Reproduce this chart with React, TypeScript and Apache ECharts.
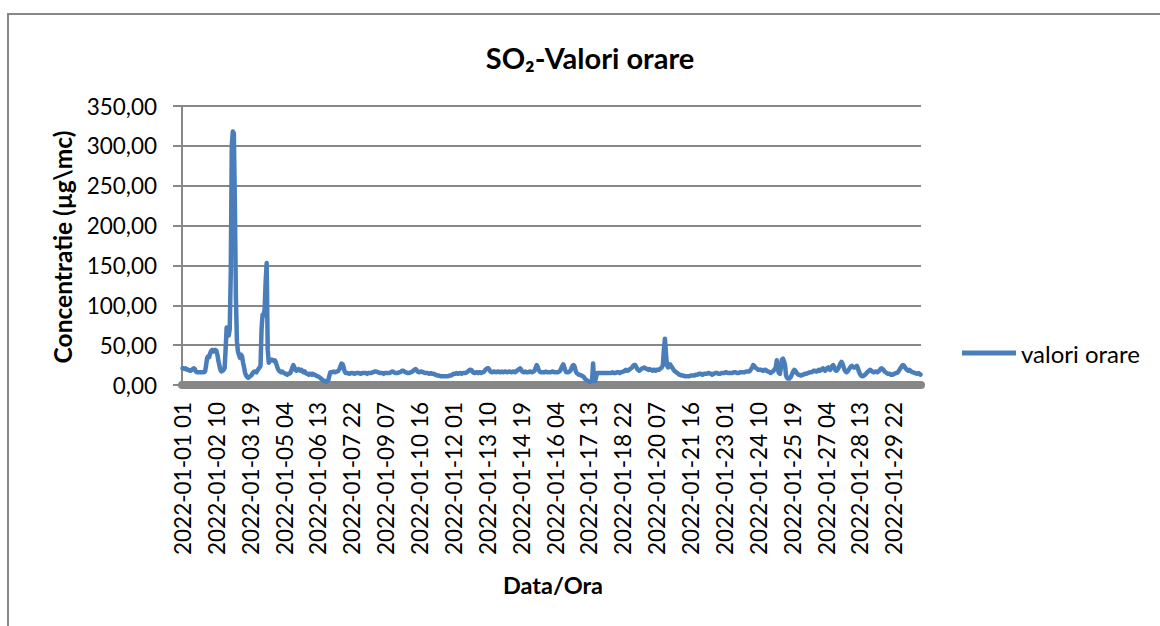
import React, { useEffect, useRef } from "react";
import * as echarts from "echarts";

// Hourly SO2 concentrations (µg/mc), one row per day, starting 2022-01-01 01:00
const day01 = [21,21,20,21,20,19,19,18,18,19,20,21,20,17,16,16,16,16,16,16,16,16,17,25];
const day02 = [34,36,35,40,43,44,42,43,44,43,38,30,24,19,17,18,19,21,45,72,70,62,70,140];
const day03 = [300,318,316,230,110,55,42,38,34,38,36,28,22,15,12,10,9,10,11,12,14,16,17,17];
const day04 = [16,18,20,22,24,70,88,87,95,130,153,45,28,30,31,32,31,30,31,28,24,20,18,17];
const day05 = [16,17,16,15,14,14,13,14,14,15,18,22,25,22,19,18,19,20,19,18,19,17,16,17];
const day06 = [15,14,14,13,14,14,13,14,13,13,12,11,11,10,9,8,7,6,5,5,4,5,6,11];
const day07 = [16,16,16,17,16,16,17,17,18,20,24,27,26,22,17,15,15,15,14,14,15,15,15,14];
const day08 = [14,15,15,15,15,14,14,15,15,15,15,15,14,15,15,15,15,16,16,17,17,17,16,16];
const day09 = [15,15,15,15,14,15,15,15,15,15,15,16,17,17,16,15,15,15,15,16,16,17,18,18];
const day10 = [17,16,16,15,15,15,16,16,17,18,19,20,19,17,16,16,17,17,16,16,15,15,15,15];
const day11 = [14,14,15,14,14,14,13,13,12,12,12,11,11,11,11,11,11,11,11,11,12,12,12,13];
const day12 = [14,14,14,15,14,14,15,15,14,15,15,15,15,16,17,18,19,19,18,16,15,15,16,16];
const day13 = [15,16,16,15,16,16,17,19,20,21,21,19,17,16,16,17,17,16,16,17,17,16,16,17];
const day14 = [16,16,17,17,16,16,17,17,16,16,17,17,16,17,18,19,20,21,19,17,16,16,17,16];
const day15 = [16,16,17,17,16,16,17,18,21,25,23,19,17,16,16,16,16,16,17,16,16,16,16,16];
const day16 = [17,17,16,16,16,16,16,17,18,21,24,26,22,18,16,16,16,17,18,21,24,25,23,18];
const day17 = [15,14,13,13,12,12,11,10,8,7,6,5,4,4,4,5,27,6,5,10,15,15,15,15];
const day18 = [15,15,15,15,15,15,15,15,15,15,15,16,15,15,15,16,16,16,15,16,16,17,17,18];
const day19 = [19,18,18,19,20,21,22,24,25,25,23,20,19,18,19,20,21,21,22,21,20,20,19,20];
const day20 = [19,19,18,19,19,18,19,19,19,20,21,22,25,45,58,40,25,22,24,26,24,22,20,18];
const day21 = [17,16,15,14,13,13,12,12,12,11,11,11,11,11,11,12,12,12,12,12,13,13,13,14];
const day22 = [14,14,13,13,14,14,14,14,15,15,14,14,13,14,14,15,15,15,14,14,14,15,15,15];
const day23 = [15,16,16,15,15,15,15,15,15,16,16,16,15,15,15,16,16,16,16,16,16,17,17,17];
const day24 = [17,18,20,22,25,24,22,21,20,19,19,19,19,18,18,19,19,18,17,17,16,15,16,17];
const day25 = [18,20,22,31,20,15,14,22,32,33,30,25,12,9,8,8,9,11,14,17,19,18,16,14];
const day26 = [13,13,12,12,13,13,14,14,14,15,15,16,16,16,17,18,18,17,17,18,19,18,19,20];
const day27 = [21,19,18,19,21,22,20,19,21,24,25,22,19,18,19,21,24,27,29,27,23,19,17,16];
const day28 = [17,19,21,23,24,23,22,22,23,24,21,17,14,12,11,11,12,13,14,16,17,18,19,18];
const day29 = [17,16,16,17,17,16,17,18,20,21,20,19,17,16,15,14,14,14,13,13,13,14,14,15];
const day30 = [15,16,18,20,22,24,25,24,22,20,19,18,19,18,17,16,16,15,15,14,14,15,14,13];

const days = [day01,day02,day03,day04,day05,day06,day07,day08,day09,day10,day11,day12,day13,day14,day15,
  day16,day17,day18,day19,day20,day21,day22,day23,day24,day25,day26,day27,day28,day29,day30];
const values: number[] = days.flat();

const START_UTC = Date.UTC(2022, 0, 1, 1);
const pad = (n: number) => (n < 10 ? "0" + n : "" + n);
const categories: string[] = values.map((_, i) => {
  const d = new Date(START_UTC + i * 3600000);
  return `${d.getUTCFullYear()}-${pad(d.getUTCMonth() + 1)}-${pad(d.getUTCDate())} ${pad(d.getUTCHours())}`;
});

const TITLE = "SO\u2082-Valori orare";
const Y_NAME = "Concentratie (\u00b5g\\mc)";
const X_NAME = "Data/Ora";
const SERIES_NAME = "valori orare";

const FONT = "Lato, 'Open Sans', sans-serif";
const TEXT = "#000000";
const GRID = "#878787";
const BLUE = "#4A7EBB";

export default function App() {
  const ref = useRef<HTMLDivElement>(null);
  useEffect(() => {
    if (!ref.current) return;
    const chart = echarts.init(ref.current, null, { renderer: "svg" });
    chart.setOption({
      animation: false,
      backgroundColor: "#ffffff",
      textStyle: { fontFamily: FONT },
      grid: { left: 182, top: 106, width: 739, height: 279, containLabel: false },
      legend: {
        data: [SERIES_NAME],
        left: 957,
        top: 336,
        icon: "rect",
        itemWidth: 54,
        itemHeight: 5,
        itemGap: 5,
        textStyle: { fontFamily: FONT, fontSize: 24, color: TEXT },
      },
      xAxis: {
        type: "category",
        data: categories,
        boundaryGap: true,
        offset: 3,
        axisLine: { show: true, lineStyle: { color: GRID, width: 8 } },
        axisTick: { show: false },
        axisLabel: {
          interval: 32,
          rotate: 90,
          margin: 14,
          fontFamily: FONT,
          fontSize: 22.5,
          color: TEXT,
        },
        splitLine: { show: false },
      },
      yAxis: {
        type: "value",
        min: 0,
        max: 350,
        interval: 50,
        axisLine: { show: true, lineStyle: { color: GRID, width: 2 } },
        axisTick: { show: true, inside: false, length: 9, lineStyle: { color: GRID, width: 2 } },
        axisLabel: {
          margin: 25,
          fontFamily: FONT,
          fontSize: 22.5,
          color: TEXT,
          formatter: (v: number) => v.toFixed(2).replace(".", ","),
        },
        splitLine: { show: true, lineStyle: { color: GRID, width: 2 } },
      },
      series: [
        {
          name: SERIES_NAME,
          type: "line",
          data: values,
          showSymbol: false,
          symbol: "none",
          lineStyle: { color: BLUE, width: 4.5, join: "round", cap: "round" },
          itemStyle: { color: BLUE },
          z: 5,
        },
      ],
      graphic: [
        {
          type: "rect",
          shape: { x: 8, y: 14, width: 1200, height: 700 },
          style: { fill: "none", stroke: GRID, lineWidth: 2 },
          silent: true,
          z: -10,
        },
        {
          type: "text",
          x: 590,
          y: 57,
          style: {
            text: TITLE,
            fontFamily: FONT,
            fontWeight: "bold",
            fontSize: 29,
            fill: TEXT,
            align: "center",
            verticalAlign: "middle",
          },
        },
        {
          type: "text",
          x: 62,
          y: 247,
          rotation: Math.PI / 2,
          style: {
            text: Y_NAME,
            fontFamily: FONT,
            fontWeight: "bold",
            fontSize: 24.5,
            fill: TEXT,
            align: "center",
            verticalAlign: "middle",
          },
        },
        {
          type: "text",
          x: 553,
          y: 585,
          style: {
            text: X_NAME,
            fontFamily: FONT,
            fontWeight: "bold",
            fontSize: 23.5,
            fill: TEXT,
            align: "center",
            verticalAlign: "middle",
          },
        },
      ],
    });
    return () => chart.dispose();
  }, []);
  return (
    <div
      ref={ref}
      style={{ position: "fixed", left: 0, top: 0, width: 1160, height: 626, background: "#fff" }}
    />
  );
}
